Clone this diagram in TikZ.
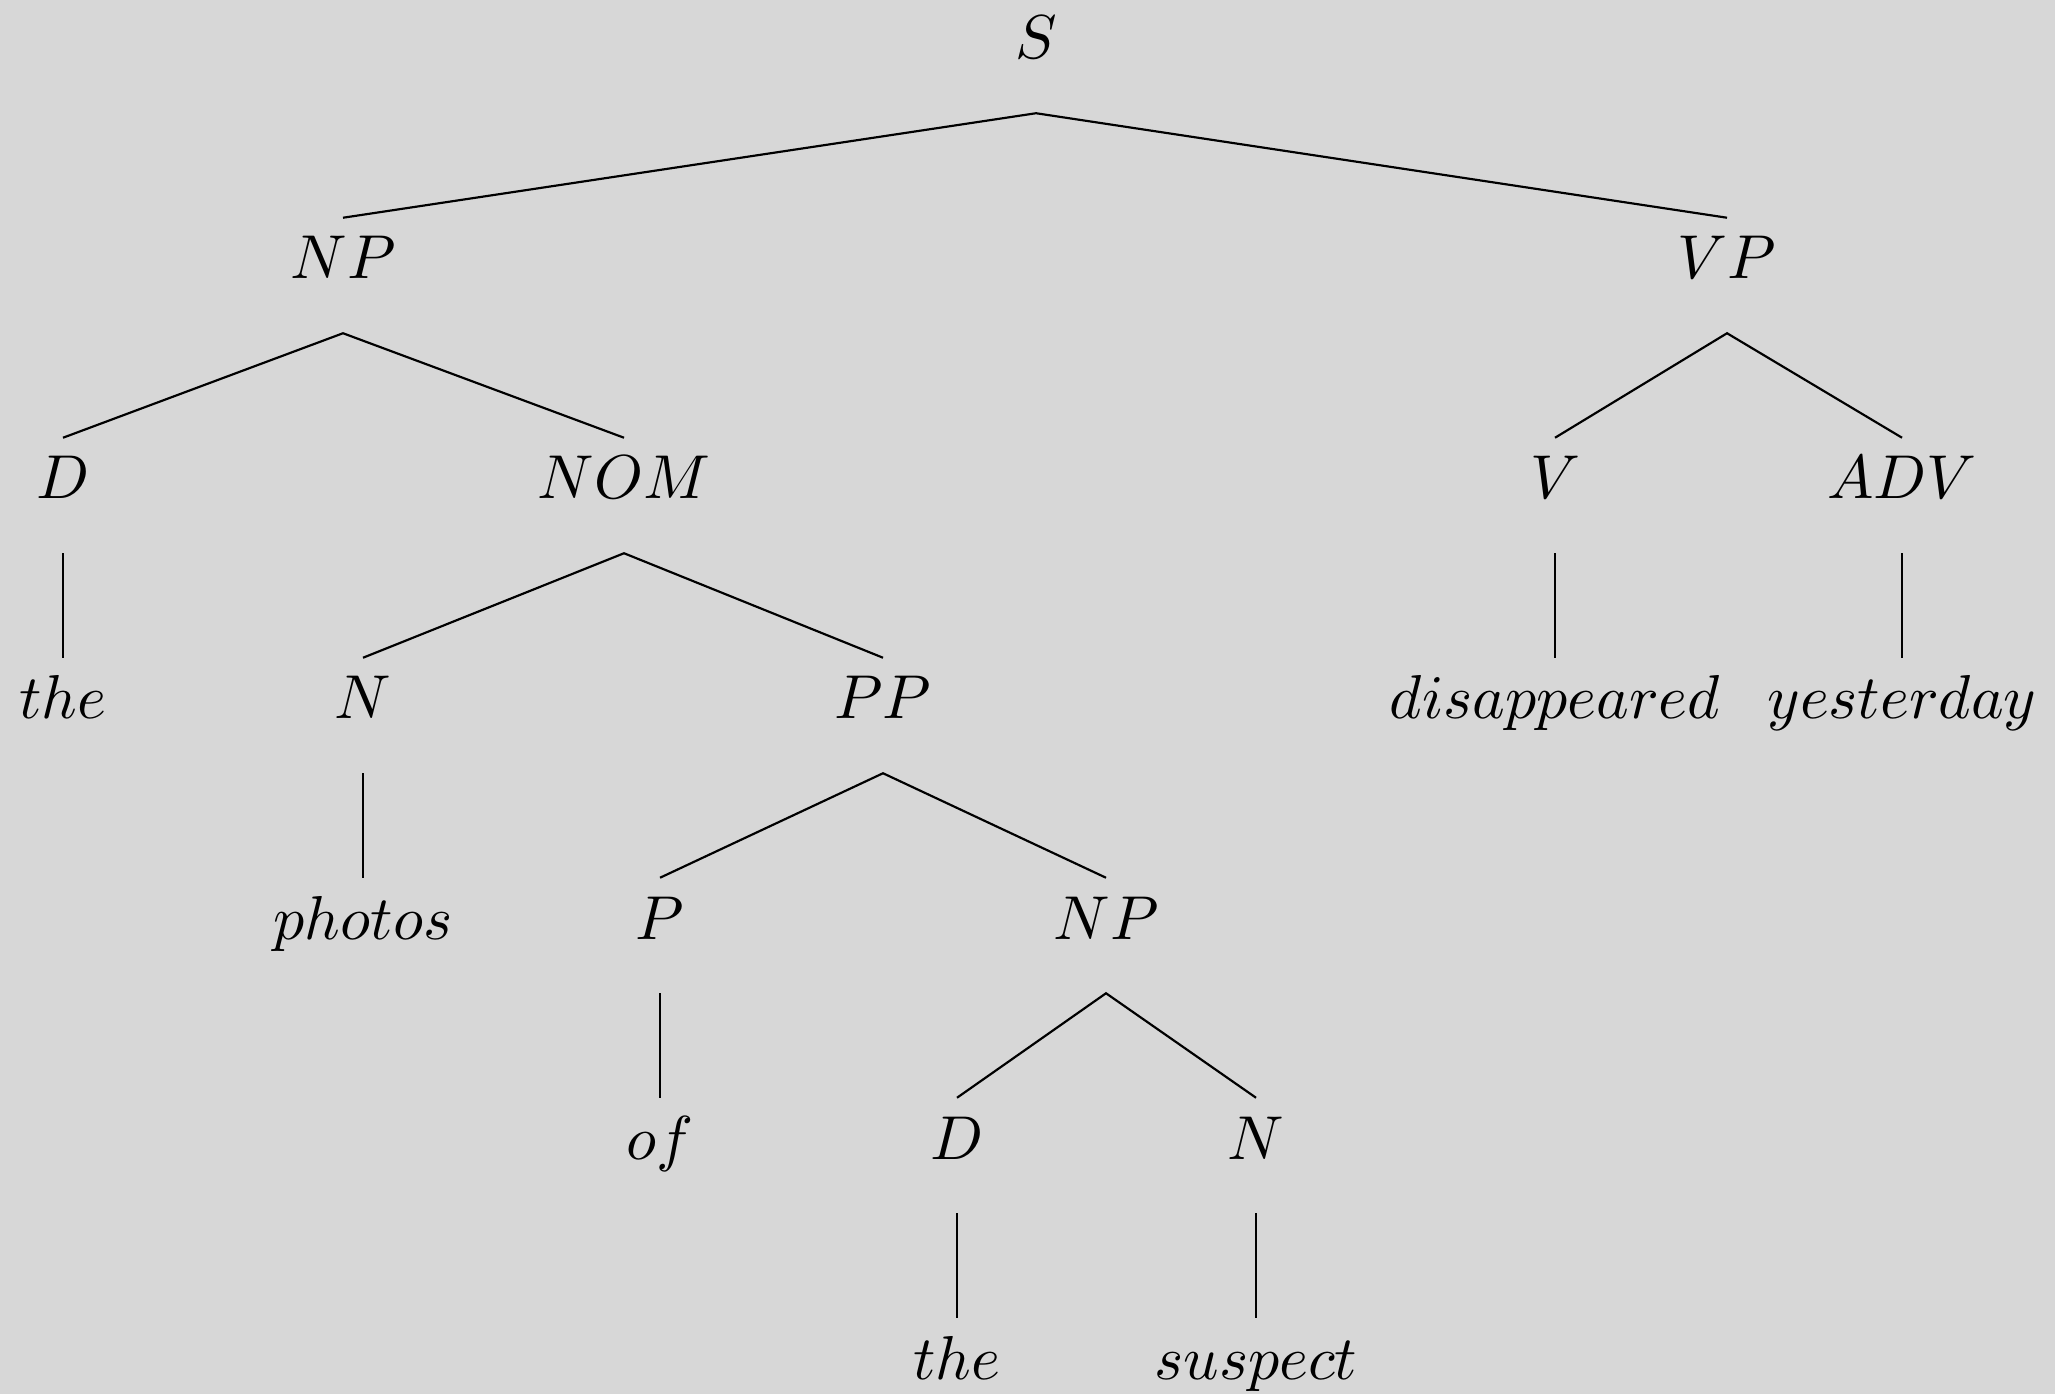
\documentclass[tikz,border=0pt]{standalone}
\definecolor{bggray}{RGB}{215,215,215}
\begin{document}
\begin{tikzpicture}[x=0.1613pt,y=-0.1613pt,
  tn/.style={anchor=base,inner sep=0pt,text height=9.68pt,text depth=8.55pt},
  br/.style={line width=0.35pt}]
\fill[bggray] (0,0) rectangle (2055,1394);
\useasboundingbox (0,0) rectangle (2055,1394);
% level 0
\node[tn] (S) at (1036,59) {$S$};
% level 1
\node[tn] (NP) at (343,279) {$NP$};
\node[tn] (VP) at (1727,279) {$VP$};
% level 2
\node[tn] (D) at (63,499) {$D$};
\node[tn] (NOM) at (624,499) {$NOM$};
\node[tn] (V) at (1555,499) {$V$};
\node[tn] (ADV) at (1902,499) {$ADV$};
% level 3
\node[tn] (the) at (63,719) {$the$};
\node[tn] (N) at (363,719) {$N$};
\node[tn] (PP) at (883,719) {$PP$};
\node[tn] (dis) at (1555,719) {$disappeared$};
\node[tn] (yes) at (1902,719) {$yesterday$};
% level 4
\node[tn] (photos) at (363,939) {$photos$};
\node[tn] (P) at (660,939) {$P$};
\node[tn] (NPb) at (1106,939) {$NP$};
% level 5
\node[tn] (of) at (660,1159) {$of$};
\node[tn] (Db) at (957,1159) {$D$};
\node[tn] (Nb) at (1256,1159) {$N$};
% level 6
\node[tn] (theb) at (957,1379) {$the$};
\node[tn] (sus) at (1256,1379) {$suspect$};
% branches
\draw[br] (NP.north) -- (S.south) -- (VP.north);
\draw[br] (D.north) -- (NP.south) -- (NOM.north);
\draw[br] (V.north) -- (VP.south) -- (ADV.north);
\draw[br] (D.south) -- (the.north);
\draw[br] (N.north) -- (NOM.south) -- (PP.north);
\draw[br] (V.south) -- (dis.north);
\draw[br] (ADV.south) -- (yes.north);
\draw[br] (N.south) -- (photos.north);
\draw[br] (P.north) -- (PP.south) -- (NPb.north);
\draw[br] (P.south) -- (of.north);
\draw[br] (Db.north) -- (NPb.south) -- (Nb.north);
\draw[br] (Db.south) -- (theb.north);
\draw[br] (Nb.south) -- (sus.north);
\end{tikzpicture}
\end{document}
